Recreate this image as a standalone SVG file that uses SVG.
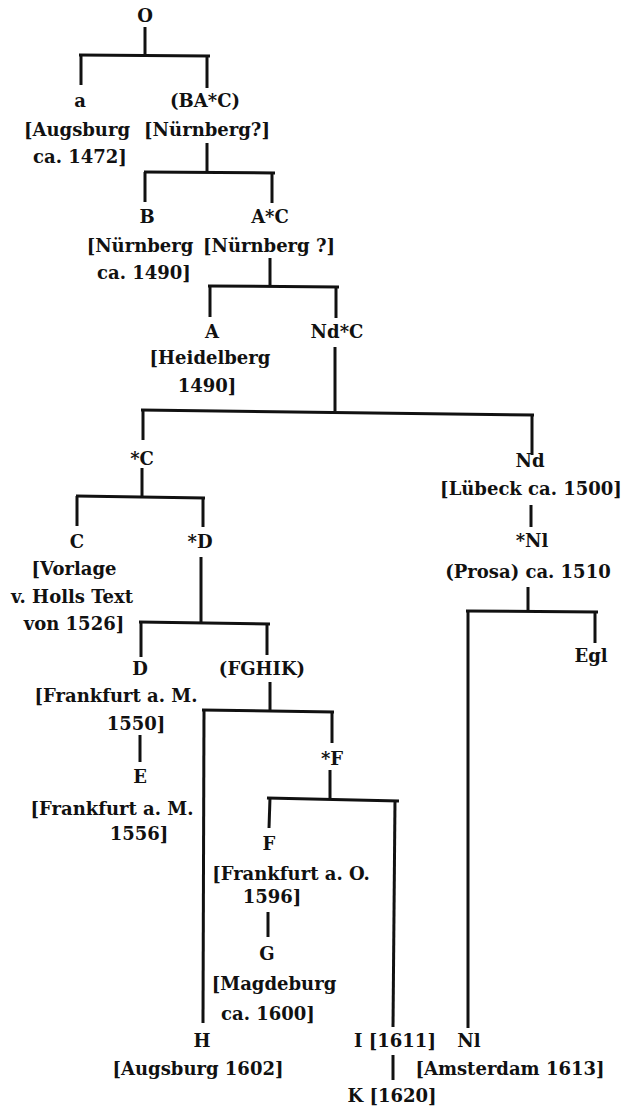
<svg xmlns="http://www.w3.org/2000/svg" width="623" height="1110" viewBox="0 0 623 1110">
<style>
text{font-family:"DejaVu Serif","Liberation Serif",serif;font-weight:bold;font-size:18px;fill:#111;text-anchor:middle}
.c line{stroke:#111;stroke-width:3;stroke-linecap:butt}
</style>
<rect width="623" height="1110" fill="#fff"/>
<g class="c" id="connectors">
<line x1="145" y1="27" x2="145" y2="55"/>
<line x1="79" y1="55" x2="210" y2="56"/>
<line x1="81" y1="55" x2="81" y2="85"/>
<line x1="207" y1="56" x2="207" y2="88"/>
<line x1="207" y1="143" x2="207" y2="172"/>
<line x1="144" y1="172" x2="275" y2="173"/>
<line x1="145" y1="172" x2="145" y2="202"/>
<line x1="272" y1="173" x2="272" y2="203"/>
<line x1="270" y1="258" x2="270" y2="287"/>
<line x1="208" y1="286" x2="339" y2="287"/>
<line x1="210" y1="286" x2="210" y2="317"/>
<line x1="336" y1="287" x2="336" y2="318"/>
<line x1="335" y1="347" x2="335" y2="411"/>
<line x1="141" y1="410" x2="534" y2="415"/>
<line x1="143" y1="410" x2="143" y2="440"/>
<line x1="532" y1="415" x2="532" y2="455"/>
<line x1="531" y1="505" x2="531" y2="527"/>
<line x1="528" y1="587" x2="528" y2="612"/>
<line x1="466" y1="611" x2="598" y2="612"/>
<line x1="468" y1="611" x2="468" y2="1028"/>
<line x1="595" y1="612" x2="595" y2="643"/>
<line x1="142" y1="468" x2="142" y2="497"/>
<line x1="76" y1="496" x2="205" y2="498"/>
<line x1="77" y1="496" x2="77" y2="526"/>
<line x1="203" y1="498" x2="203" y2="527"/>
<line x1="201" y1="557" x2="201" y2="623"/>
<line x1="139" y1="622" x2="270" y2="624"/>
<line x1="141" y1="622" x2="141" y2="657"/>
<line x1="267" y1="624" x2="267" y2="655"/>
<line x1="140" y1="735" x2="140" y2="762"/>
<line x1="270" y1="682" x2="270" y2="711"/>
<line x1="202" y1="710" x2="334" y2="712"/>
<line x1="204" y1="710" x2="203" y2="1023"/>
<line x1="332" y1="712" x2="332" y2="743"/>
<line x1="330" y1="770" x2="330" y2="799"/>
<line x1="267" y1="798" x2="399" y2="801"/>
<line x1="270" y1="798" x2="269" y2="828"/>
<line x1="395" y1="800" x2="393" y2="1027"/>
<line x1="268" y1="912" x2="268" y2="937"/>
<line x1="393" y1="1055" x2="393" y2="1080"/>
</g>
<g id="n-O"><text x="145" y="22">O</text></g>
<g id="n-a"><text x="80" y="107">a</text><text x="77" y="136">[Augsburg</text><text x="80" y="163">ca. 1472]</text></g>
<g id="n-BAC"><text x="205" y="107">(BA*C)</text><text x="207" y="136">[Nürnberg?]</text></g>
<g id="n-B"><text x="147" y="223">B</text><text x="140" y="252">[Nürnberg</text><text x="144" y="279">ca. 1490]</text></g>
<g id="n-AC"><text x="270" y="223">A*C</text><text x="269" y="252">[Nürnberg ?]</text></g>
<g id="n-A"><text x="212" y="338">A</text><text x="210" y="364">[Heidelberg</text><text x="207" y="392">1490]</text></g>
<g id="n-NdC"><text x="337" y="338">Nd*C</text></g>
<g id="n-sC"><text x="142" y="465">*C</text></g>
<g id="n-Nd"><text x="530" y="467">Nd</text><text x="531" y="495">[Lübeck ca. 1500]</text></g>
<g id="n-sNl"><text x="532" y="547">*Nl</text><text x="528" y="578">(Prosa) ca. 1510</text></g>
<g id="n-Egl"><text x="591" y="662">Egl</text></g>
<g id="n-C"><text x="77" y="548">C</text><text x="74" y="575">[Vorlage</text><text x="72" y="603">v. Holls Text</text><text x="74" y="630">von 1526]</text></g>
<g id="n-sD"><text x="200" y="548">*D</text></g>
<g id="n-D"><text x="140" y="675">D</text><text x="116" y="702">[Frankfurt a. M.</text><text x="136" y="730">1550]</text></g>
<g id="n-FGHIK"><text x="262" y="675">(FGHIK)</text></g>
<g id="n-E"><text x="140" y="783">E</text><text x="112" y="815">[Frankfurt a. M.</text><text x="139" y="840">1556]</text></g>
<g id="n-sF"><text x="332" y="765">*F</text></g>
<g id="n-F"><text x="269" y="850">F</text><text x="291" y="880">[Frankfurt a. O.</text><text x="272" y="903">1596]</text></g>
<g id="n-G"><text x="267" y="960">G</text><text x="274" y="990">[Magdeburg</text><text x="268" y="1020">ca. 1600]</text></g>
<g id="n-H"><text x="202" y="1047">H</text><text x="198" y="1075">[Augsburg 1602]</text></g>
<g id="n-I"><text x="395" y="1047">I [1611]</text></g>
<g id="n-K"><text x="392" y="1102">K [1620]</text></g>
<g id="n-Nl"><text x="469" y="1047">Nl</text><text x="510" y="1075">[Amsterdam 1613]</text></g>
</svg>
